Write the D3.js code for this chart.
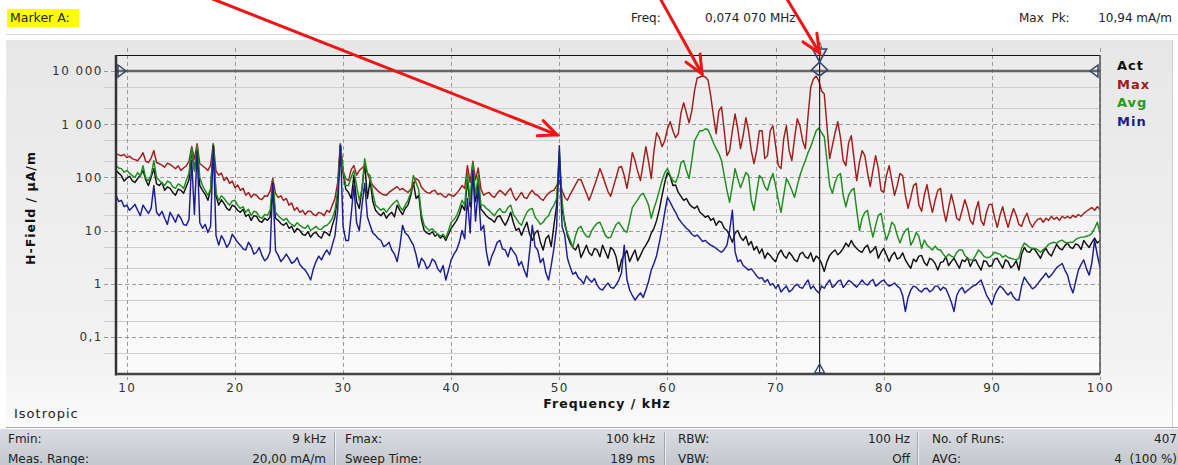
<!DOCTYPE html>
<html><head><meta charset="utf-8">
<script src="https://cdn.jsdelivr.net/npm/d3@7/dist/d3.min.js"></script>
<style>
html,body{margin:0;padding:0;background:#fff;}
svg{display:block;font-family:"DejaVu Sans",Verdana,sans-serif;}
</style></head><body>
<svg id="c" width="1178" height="465"></svg>
<script>
// ---------------- DATA (sweep grid in kHz, values in µA/m) ----------------
const freqs = [
9,9.25,9.5,9.75, 10,10.25,10.5,10.75, 11,11.25,11.5,11.75, 12,12.25,12.5,12.75, 13,13.25,13.5,13.75,
14,14.25,14.5,14.75, 15,15.25,15.5,15.75, 16,16.25,16.5,16.75, 17,17.25,17.5,17.75, 18,18.25,18.5,18.75,
19,19.25,19.5,19.75, 20,20.25,20.5,20.75, 21,21.25,21.5,21.75, 22,22.25,22.5,22.75, 23,23.25,23.5,23.75,
24,24.25,24.5,24.75, 25,25.25,25.5,25.75, 26,26.25,26.5,26.75, 27,27.25,27.5,27.75, 28,28.25,28.5,28.75,
29,29.25,29.5,29.75, 30,30.25,30.5,30.75, 31,31.25,31.5,31.75, 32,32.25,32.5,32.75, 33,33.25,33.5,33.75,
34,34.25,34.5,34.75, 35,35.25,35.5,35.75, 36,36.25,36.5,36.75, 37,37.25,37.5,37.75, 38,38.25,38.5,38.75,
39,39.25,39.5,39.75, 40,40.25,40.5,40.75, 41,41.25,41.5,41.75, 42,42.25,42.5,42.75, 43,43.25,43.5,43.75,
44,44.25,44.5,44.75, 45,45.25,45.5,45.75, 46,46.25,46.5,46.75, 47,47.25,47.5,47.75, 48,48.25,48.5,48.75,
49,49.25,49.5,49.75, 50,50.25,50.5,50.75, 51,51.25,51.5,51.75, 52,52.25,52.5,52.75, 53,53.25,53.5,53.75,
54,54.25,54.5,54.75, 55,55.25,55.5,55.75, 56,56.25,56.5,56.75, 57,57.25,57.5,57.75, 58,58.25,58.5,58.75,
59,59.25,59.5,59.75, 60,60.25,60.5,60.75, 61,61.25,61.5,61.75, 62,62.25,62.5,62.75, 63,63.25,63.5,63.75,
64,64.25,64.5,64.75, 65,65.25,65.5,65.75, 66,66.25,66.5,66.75, 67,67.25,67.5,67.75, 68,68.25,68.5,68.75,
69,69.25,69.5,69.75, 70,70.25,70.5,70.75, 71,71.25,71.5,71.75, 72,72.25,72.5,72.75, 73,73.25,73.5,73.75,
74,74.25,74.5,74.75, 75,75.25,75.5,75.75, 76,76.25,76.5,76.75, 77,77.25,77.5,77.75, 78,78.25,78.5,78.75,
79,79.25,79.5,79.75, 80,80.25,80.5,80.75, 81,81.25,81.5,81.75, 82,82.25,82.5,82.75, 83,83.25,83.5,83.75,
84,84.25,84.5,84.75, 85,85.25,85.5,85.75, 86,86.25,86.5,86.75, 87,87.25,87.5,87.75, 88,88.25,88.5,88.75,
89,89.25,89.5,89.75, 90,90.25,90.5,90.75, 91,91.25,91.5,91.75, 92,92.25,92.5,92.75, 93,93.25,93.5,93.75,
94,94.25,94.5,94.75, 95,95.25,95.5,95.75, 96,96.25,96.5,96.75, 97,97.25,97.5,97.75, 98,98.25,98.5,98.75,
99,99.25,99.5,99.75, 100];

const actValues = [
134,120,108,85, 95,105,87,80, 95,110,134,90, 70,100,146,75, 70,80,57,66,
62,52,46,60, 57,50,67,90, 318,140,346,70, 57,48,37,60, 394,45,30,38,
32,26,24,30, 28,24,22,25, 18.5,20,15.5,19, 18.5,15,14.3,17, 15.5,18,70,17,
15.5,13.5,12.5,14, 11,12,9.2,11, 10,8.5,8.1,9.5, 7.5,8.8,9.2,7.8, 7.2,9.5,8.9,8,
12.5,18,46,394, 120,60,52,40, 108,35,26,60, 189,40,87,35, 24,21,19,22,
17,20,22,18, 30,24,20,26, 30,45,80,40, 46,16,10,9, 8.5,9.5,7.8,8.5,
7.2,8,6.5,8.5, 11,13,15.5,20, 30,24,90,28, 134,35,85,25, 22,19,17,16,
14.3,18,19,15, 12.5,16,22,14, 10,11,8.1,11, 14.3,8.5,6.5,9, 10,6,4.3,7,
8.1,5,12.5,30, 256,25,14.3,8, 5.8,4.8,4.3,5.5, 3.1,4,5.3,3.8, 3.4,4.6,4.3,3.2,
5.3,4,3.0,4.8, 4.3,3.2,1.7,2.8, 3.4,4.2,2.6,3.4, 4.3,2.7,3.4,4.4, 5.3,6.5,8.9,11,
15.5,25,46,80, 123,105,70,72, 52,44,37,40, 32,28,26,29, 22,20,17.7,19,
15.5,17,12.5,15, 14.3,11,10,8, 6.0,9,10,7.5, 6.5,7.8,5.3,6.2, 4.3,5,3.7,4.5,
3.0,3.8,3.4,2.9, 2.6,3.6,4.3,3.4, 3.0,3.9,3.4,2.8, 2.6,3.6,3.9,3.2, 3.0,3.8,2.6,3.3,
3.0,2.4,1.7,2.6, 3.4,3.9,4.3,3.5, 3.9,4.6,5.8,5, 6.5,5.2,4.6,4.1, 3.9,4.8,5.3,3.8,
4.3,5.0,3.0,3.9, 4.6,3.5,2.6,3.4, 3.9,2.9,3.1,3.8, 2.8,2.3,1.95,2.9, 2.6,3.3,3.4,2.5,
2.2,3.0,2.8,2.4, 1.8,2.5,2.6,3.2, 2.2,2.6,3.0,2.4, 1.95,2.8,2.6,3.1, 2.1,2.7,2.8,2.2,
1.8,2.7,2.6,2.1, 2.2,2.9,3.0,2.4, 1.95,2.8,2.6,2.0, 2.2,2.7,1.8,3.6, 4.8,4.0,3.9,4.6,
4.3,3.6,3.0,4.0, 4.6,3.7,3.3,4.3, 5.5,4.6,4.3,5.2, 5.8,4.8,4.6,5.6, 5.3,4.4,6.5,5.5,
4.8,6,7.2,5.8, 6.5];

const maxValues = [
280,265,255,270, 235,250,225,215, 205,240,290,200, 190,230,320,190, 180,170,155,185,
175,160,145,165, 135,150,165,200, 380,220,430,180, 165,150,135,170, 430,130,110,120,
87,100,77,85, 64,72,57,62, 46,52,42,48, 46,40,38,45, 44,55,95,50,
42,45,37,40, 30,33,24,27, 22,24,20,23, 23,20,19,22, 21,19,24,22,
30,40,80,430, 130,95,87,140, 166,110,134,150, 166,120,87,70, 62,55,50,47,
46,52,57,62, 67,58,62,56, 52,60,70,95, 87,65,57,52, 50,55,57,48,
50,45,42,48, 46,44,50,58, 70,62,166,80, 200,90,150,60, 46,50,52,45,
42,50,57,52, 46,55,62,45, 37,44,52,42, 40,50,57,48, 46,40,37,44,
50,55,57,70, 87,57,42,37, 48,59,73,91, 91,67,50,37, 50,70,99,146,
108,76,54,44, 67,99,153,160, 108,62,123,292, 206,128,87,181, 378,197,95,318,
690,557,378,489, 820,1110,752,557, 660,1630,2520,1630, 1060,1780,4220,7400, 7720,8060,7720,6790,
3400,1440,660,1780, 2120,752,256,318, 752,1560,820,346, 606,1320,752,318, 181,318,752,752,
225,256,752,933, 394,166,146,533, 933,318,206,533, 1260,933,489,346, 1440,5020,7100,8060,
6500,4220,3700,933, 225,394,690,1110, 557,206,166,448, 606,225,87,189, 318,256,123,67,
134,256,146,57, 52,108,166,87, 46,70,118,108, 46,26,42,70, 77,30,23,46,
73,37,22,37, 57,62,26,14.8, 27,48,30,17, 15.5,24,38,26, 15.5,13,24,35,
15.5,12.5,22,31, 31,17.7,11.5,19.3, 28,17,11.5,17.7, 26,19.3,13,12, 17,21,14.3,11.5,
14.3,16.2,17,14.3, 17,15.5,18.5,16.2, 17.7,15.5,18.5,17, 18.5,17,19.3,17.7, 20,18.5,21,23,
25,27,24,28, 25];

const avgValues = [
166,150,146,125, 134,120,108,100, 123,105,166,95, 87,110,206,100, 87,78,70,85,
80,66,62,75, 70,62,87,120, 362,130,394,100, 70,56,46,60, 430,50,37,45,
40,34,30,36, 37,30,26,28, 22,25,19,23, 22,18,17,20, 19,24,87,22,
19,17,15.5,17, 14.3,13,12,14, 12.5,11.5,11,12.5, 10,11,12,10.5, 10.5,12,12.5,14,
17,24,57,430, 140,70,70,100, 134,70,37,60, 225,120,108,50, 30,27,24,26,
22,26,30,34, 37,28,24,30, 37,50,108,80, 57,20,12.5,11, 10,10.8,9.4,8.6,
7.8,8.5,7.2,10, 14.3,16,19,26, 37,30,120,35, 190,45,110,30, 30,26,24,21,
19,23,26,22, 22,27,30,20, 17,14,12.5,17, 22,25,26,18, 15.5,13,14.3,17,
19,25,30,40, 318,37,12.5,8.9, 6.6,4.8,8.1,11, 12,9.2,7.8,7.5, 10,12,13.7,14.3,
11,8.1,7.2,7.5, 10,13,14.3,12, 10,9.2,15.5,27, 32,38,46,50, 40,30,17,26,
37,57,87,123, 146,108,87,80, 108,189,206,134, 95,206,489,606, 752,752,820,785,
606,448,346,280, 206,108,57,34, 70,146,95,64, 87,123,108,37, 24,52,108,95,
67,57,87,118, 70,37,22,46, 95,76,57,42, 70,108,153,206, 292,378,533,752,
850,690,580,206, 70,50,80,108, 118,46,28,46, 57,62,24,10, 17,22,24,12.5,
7.5,12.5,19.3,21, 11,6.6,9.2,14.3, 12.5,8.1,5.8,8.1, 10,11,5.3,6.6, 9.2,7.8,4.6,6.6,
5.3,4.8,4.3,5.1, 4.4,4.3,3.6,3.1, 3.6,3.3,3.1,3.9, 4.3,4.3,3.4,3.0, 2.8,2.8,3.4,4.3,
3.9,3.3,3.1,3.1, 3.4,3.9,3.7,3.6, 3.1,3.4,3.1,3.0, 2.9,2.8,3.0,4.6, 5.8,5.3,4.8,4.6,
4.6,4.3,3.9,4.4, 4.8,5.5,5.8,6.0, 5.8,6.3,6.6,6.0, 5.8,6.0,6.0,6.8, 7.2,7.5,7.5,7.8,
8.1,8.9,11,14.3, 8.9];

const minValues = [
46,35,37,28, 30,24,27,31, 24,19,30,25, 21,26,70,22, 19,23,17,13,
22,18,14.3,20, 17,13,12.5,16, 206,20,318,14, 11,13,9.2,12, 394,8,5.3,8,
6.5,4.8,5.8,8.5, 7.2,6,5.3,4.5, 4.3,6,5.0,3.6, 3.9,4.8,3.4,2.7, 3.0,4,80,4.2,
3.4,2.6,3.0,3.6, 3.0,2.4,2.6,3.1, 2.3,2.0,1.8,1.5, 1.17,1.9,2.6,3.3, 2.8,3.6,4.3,3.5,
5.3,8,24,394, 12,6.5,6.5,20, 70,14,10,30, 77,18,12.5,9, 8.1,7,6.5,5,
5.3,6,4.3,3.6, 2.6,5,12.5,9, 8.1,6.5,5.3,3.5, 2.0,3,2.6,1.9, 2.15,2.9,2.6,1.9,
1.65,2.2,1.17,1.8, 2.8,3.6,4.3,6, 10,7,40,9, 134,15,60,10, 12.5,4,2.2,3.3,
4.3,6,6.5,4.5, 4.3,3.2,4.8,4, 3.4,2.2,2.6,1.8, 1.33,4,12.5,5, 4.3,2.5,3.0,1.6,
1.17,2.2,4.6,12, 394,12,8.1,3, 2.05,1.5,1.65,1.3, 1.17,1.0,1.4,1.2, 1.07,1.25,0.94,0.8,
0.76,0.9,1.03,0.85, 0.82,0.95,1.17,1.6, 5.3,1.2,0.76,0.6, 0.49,0.58,0.67,0.55, 0.76,1.1,1.8,2.4,
3.4,6,11,22, 42,34,27,22, 17,14.5,12.5,11, 10,8.5,7.8,8.2, 7.2,6.2,6.5,5.8,
5.3,5.0,4.6,4.2, 3.9,4.4,5.3,10, 24,4,2.6,2.8, 2.2,2.0,1.8,1.9, 1.65,1.4,1.25,1.3,
1.07,1.2,0.94,1.0, 0.82,0.95,0.70,0.8, 0.9,0.7,0.76,0.9, 0.98,0.85,0.82,1.0, 1.17,0.8,0.9,0.75,
0.67,0.9,0.82,1.0, 1.17,0.85,0.94,1.1, 1.17,0.85,0.98,1.15, 1.07,0.95,0.86,1.0, 1.17,1.0,0.94,1.1,
1.2,0.9,0.98,1.1, 1.17,1.0,0.9,0.95, 1.03,0.9,0.82,0.6, 0.3,0.55,0.76,0.9, 0.86,0.75,0.70,0.8,
0.82,0.7,0.76,0.9, 0.9,0.75,0.86,0.8, 0.61,0.45,0.3,0.6, 0.76,0.85,0.67,0.75, 0.82,0.9,0.94,1.05,
1.17,0.85,0.61,0.5, 0.40,0.6,0.76,0.9, 0.82,0.7,0.61,0.7, 0.56,0.5,0.49,0.9, 1.33,1.1,0.94,0.8,
0.86,1.0,1.17,1.35, 1.58,1.3,1.45,1.7, 2.0,2.2,2.4,1.8, 1.45,0.9,0.67,1.1, 1.8,2.3,2.8,1.9,
1.45,2.5,6.5,3.5, 2.0];

const seriesNames = ["Act","Max","Avg","Min"];
const seriesColors = ["#111111","#a31c1c","#1e8c1e","#1c1c94"];
const legendColors = ["#111111","#a01c1c","#2a9a1a","#1c1c90"];

const xTickValues = [10,20,30,40,50,60,70,80,90,100];
const yTickValues = [0.1,1,10,100,1000,10000];
const yTickLabels = ["0,1","1","10","100","1 000","10 000"];
const yMinorValues = [0.05,0.2,0.5,2,5,20,50,200,500,2000,5000];

const thresholdValue = 10000;      // µA/m
const markerFreq = 74.07;          // kHz
const arrowTips = [[49.8,630],[63.2,8790],[74.07,21700]];  // kHz, µA/m
const arrowTailFreqs = [17.7,59.3,71.0];

const headerItems = [
  {label:"Freq:", value:"0,074 070 MHz"},
  {label:"Max  Pk:", value:"10,94 mA/m"}
];
const infoRow1 = [["Fmin:","9 kHz"],["Fmax:","100 kHz"],["RBW:","100 Hz"],["No. of Runs:","407"]];
const infoRow2 = [["Meas. Range:","20,00 mA/m"],["Sweep Time:","189 ms"],["VBW:","Off"],["AVG:","4  (100 %)"]];

// ---------------- LAYOUT ----------------
const svg = d3.select("#c");
const L = 116, R = 1100, T = 55, B = 374;
const x = d3.scaleLinear().domain([9,100]).range([L,R]);
const y = d3.scaleLog().domain([0.02,20000]).range([B,T]);

const defs = svg.append("defs");
function vgrad(id, stops){
  const g = defs.append("linearGradient").attr("id",id).attr("x1",0).attr("y1",0).attr("x2",0).attr("y2",1);
  stops.forEach(s=>g.append("stop").attr("offset",s[0]).attr("stop-color",s[1]));
}
vgrad("panelG",[[0,"#e7e7e7"],[0.85,"#f3f3f3"],[1,"#fbfbfb"]]);
vgrad("plotG",[[0,"#ebebeb"],[1,"#fbfbfb"]]);
vgrad("barG",[[0,"#d9dce0"],[1,"#c4c8cd"]]);
defs.append("clipPath").attr("id","clip").append("rect").attr("x",L).attr("y",T).attr("width",R-L).attr("height",B-T);

// header
svg.append("rect").attr("x",7).attr("y",9).attr("width",72).attr("height",18).attr("fill","#ffff00");
svg.append("text").attr("x",10).attr("y",22).attr("font-size",12.5).attr("fill","#222").text("Marker A:");
svg.append("text").attr("x",631).attr("y",22).attr("font-size",12).attr("fill","#222").text(headerItems[0].label);
svg.append("text").attr("x",705).attr("y",22).attr("font-size",12).attr("fill","#222").text(headerItems[0].value);
svg.append("text").attr("x",1019).attr("y",22).attr("font-size",12).attr("fill","#222").style("white-space","pre").text(headerItems[1].label);
svg.append("text").attr("x",1172).attr("y",22).attr("text-anchor","end").attr("font-size",12).attr("fill","#222").text(headerItems[1].value);
svg.append("line").attr("x1",6).attr("x2",1178).attr("y1",34.5).attr("y2",34.5).attr("stroke","#d9d9d9");

// panel
svg.append("rect").attr("x",6).attr("y",40).attr("width",1166).attr("height",387).attr("fill","url(#panelG)");
svg.append("line").attr("x1",1172.5).attr("x2",1172.5).attr("y1",40).attr("y2",427).attr("stroke","#d0d0d0");
svg.append("line").attr("x1",6).attr("x2",1178).attr("y1",427.5).attr("y2",427.5).attr("stroke","#a8a8a8");
svg.append("rect").attr("x",L).attr("y",T).attr("width",R-L).attr("height",B-T).attr("fill","url(#plotG)");

// grid
const grid = svg.append("g");
grid.selectAll(".ymin").data(yMinorValues).enter().append("line")
  .attr("x1",104).attr("x2",R).attr("y1",d=>Math.round(y(d))+0.5).attr("y2",d=>Math.round(y(d))+0.5)
  .attr("stroke","#cdcdcd").attr("stroke-width",1);
grid.selectAll(".ymaj").data(yTickValues).enter().append("line")
  .attr("x1",104).attr("x2",R).attr("y1",d=>Math.round(y(d))+0.5).attr("y2",d=>Math.round(y(d))+0.5)
  .attr("stroke","#9a9a9a").attr("stroke-dasharray","4,3");
grid.selectAll(".xmaj").data(xTickValues).enter().append("line")
  .attr("x1",d=>Math.round(x(d))+0.5).attr("x2",d=>Math.round(x(d))+0.5).attr("y1",48).attr("y2",380)
  .attr("stroke","#9a9a9a").attr("stroke-dasharray","4,3");

// axes (labels)
const gy = svg.append("g").attr("transform",`translate(${L},0)`)
  .call(d3.axisLeft(y).tickValues(yTickValues).tickFormat(d=>yTickLabels[yTickValues.indexOf(d)]).tickSize(0).tickPadding(13));
gy.select(".domain").remove();
gy.attr("font-family","DejaVu Sans").attr("font-size",12);
gy.selectAll("text").attr("fill","#333").attr("letter-spacing","1.5px");

const gx = svg.append("g").attr("transform",`translate(0,${B})`)
  .call(d3.axisBottom(x).tickValues(xTickValues).tickFormat(d=>String(d)).tickSize(0).tickPadding(9));
gx.select(".domain").remove();
gx.attr("font-family","DejaVu Sans").attr("font-size",12);
gx.selectAll("text").attr("fill","#333").attr("letter-spacing","1.5px");

svg.append("text").attr("x",607).attr("y",408).attr("text-anchor","middle").attr("font-size",12.5)
  .attr("font-weight","bold").attr("letter-spacing","1px").attr("fill","#111").text("Frequency / kHz");
svg.append("text").attr("transform","translate(35,208) rotate(-90)").attr("text-anchor","middle").attr("font-size",12.5)
  .attr("font-weight","bold").attr("letter-spacing","1px").attr("fill","#111").text("H-Field / µA/m");
svg.append("text").attr("x",14).attr("y",418).attr("font-size",13).attr("letter-spacing","1px").attr("fill","#222").text("Isotropic");

// traces
const allSeries = [actValues,maxValues,avgValues,minValues];
const line = d3.line().x((d,i)=>x(freqs[i])).y(d=>y(d));
const gT = svg.append("g").attr("clip-path","url(#clip)");
allSeries.forEach((s,k)=>{
  gT.append("path").datum(s).attr("d",line).attr("fill","none")
    .attr("stroke",seriesColors[k]).attr("stroke-width",1.45).attr("stroke-linejoin","round");
});

// threshold line
const ty = y(thresholdValue);
svg.append("line").attr("x1",L).attr("x2",R).attr("y1",ty).attr("y2",ty).attr("stroke","#666").attr("stroke-width",2.5);
svg.append("path").attr("d",`M${L+2},${ty-6}L${L+10},${ty}L${L+2},${ty+6}Z`).attr("fill","none").attr("stroke","#34466a").attr("stroke-width",1.5);
svg.append("path").attr("d",`M${R-2},${ty-6}L${R-10},${ty}L${R-2},${ty+6}Z`).attr("fill","none").attr("stroke","#34466a").attr("stroke-width",1.5);

// frame
svg.append("line").attr("x1",L).attr("x2",R).attr("y1",T+0.5).attr("y2",T+0.5).attr("stroke","#111").attr("stroke-width",1.2);
svg.append("line").attr("x1",R).attr("x2",R).attr("y1",T).attr("y2",B).attr("stroke","#555").attr("stroke-width",1.5);
svg.append("line").attr("x1",L).attr("x2",L).attr("y1",T).attr("y2",B+1.5).attr("stroke","#333").attr("stroke-width",2.5);
svg.append("line").attr("x1",L).attr("x2",R).attr("y1",B).attr("y2",B).attr("stroke","#444").attr("stroke-width",2.5);

// marker
const mx = x(markerFreq);
svg.append("line").attr("x1",mx).attr("x2",mx).attr("y1",T).attr("y2",B).attr("stroke","#222").attr("stroke-width",1.2);
svg.append("path").attr("d",`M${mx-7},49L${mx+7},49L${mx},62Z M${mx},62L${mx+8},${ty-1}L${mx},${ty+5}L${mx-8},${ty-1}Z`)
  .attr("fill","none").attr("stroke","#34466a").attr("stroke-width",1.6);
svg.append("path").attr("d",`M${mx-5},${B-1}L${mx},${B-10}L${mx+5},${B-1}Z`).attr("fill","none").attr("stroke","#34466a").attr("stroke-width",1.4);
svg.append("text").attr("x",mx).attr("y",50).attr("text-anchor","middle").attr("font-size",10).attr("fill","#667").text("A");

// legend
seriesNames.forEach((n,k)=>{
  svg.append("text").attr("x",1117).attr("y",70+k*18.7).attr("font-size",13).attr("font-weight","bold")
    .attr("letter-spacing","1px").attr("fill",legendColors[k]).text(n);
});

// red annotation arrows
arrowTips.forEach((tp,k)=>{
  const x2 = x(tp[0]), y2 = y(tp[1]);
  const x1 = x(arrowTailFreqs[k]), y1 = 0;
  const a = Math.atan2(y2-y1, x2-x1);
  const hl = 20, ha = 0.42;
  const g = svg.append("g").attr("stroke","#f01414").attr("stroke-width",3).attr("stroke-linecap","round").attr("fill","none");
  g.append("line").attr("x1",x1).attr("y1",y1-2).attr("x2",x2).attr("y2",y2);
  g.append("path").attr("d",`M${x2-hl*Math.cos(a-ha)},${y2-hl*Math.sin(a-ha)}L${x2},${y2}L${x2-hl*Math.cos(a+ha)},${y2-hl*Math.sin(a+ha)}`);
});

// info bar
svg.append("rect").attr("x",0).attr("y",429).attr("width",1178).attr("height",36).attr("fill","url(#barG)");
[334,664,917].forEach(sx=>{
  svg.append("line").attr("x1",sx+0.5).attr("x2",sx+0.5).attr("y1",432).attr("y2",465).attr("stroke","#a3a7ac");
  svg.append("line").attr("x1",sx+1.5).attr("x2",sx+1.5).attr("y1",432).attr("y2",465).attr("stroke","#eceef0");
});
const colLabelX = [8,345,678,932], colValueX = [326,655,910,1177];
[infoRow1,infoRow2].forEach((row,r)=>{
  row.forEach((c,k)=>{
    svg.append("text").attr("x",colLabelX[k]).attr("y",443+r*19.5).attr("font-size",12).attr("fill","#222").text(c[0]);
    svg.append("text").attr("x",colValueX[k]).attr("y",443+r*19.5).attr("font-size",12).attr("text-anchor","end")
      .attr("fill","#222").style("white-space","pre").text(c[1]);
  });
});
</script>
</body></html>
